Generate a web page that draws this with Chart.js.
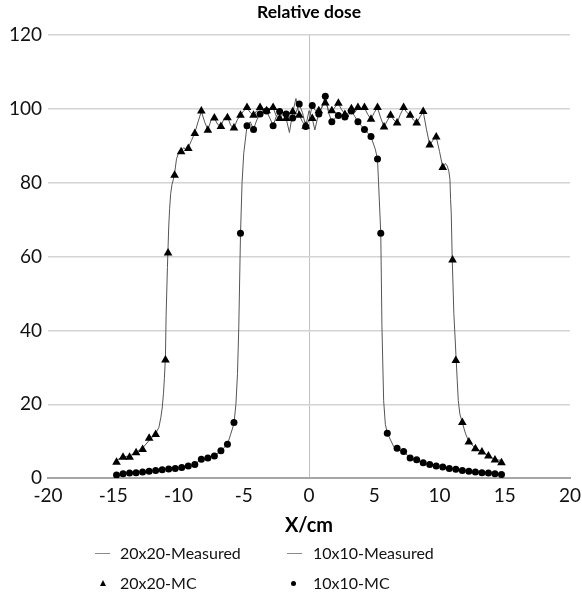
<!DOCTYPE html>
<html>
<head>
<meta charset="utf-8">
<title>Relative dose</title>
<script src="https://cdn.jsdelivr.net/npm/chart.js@4.4.1/dist/chart.umd.min.js"></script>
<style>
  body { margin: 0; background: #fff; }
  #wrap { position: relative; width: 582px; height: 598px; }
  #titulo { position: absolute; left: 48px; width: 522px; top: 1px; text-align: center; font: bold 17.5px Lato, sans-serif; color: #000; line-height: 22px; }
  .leg { position: absolute; font: 16px Lato, sans-serif; color: #111; line-height: 20px; }
  .dash { position: absolute; width: 15px; height: 1px; background: #8a8a8a; }
  .tri { position: absolute; width: 0; height: 0; border-left: 3px solid transparent; border-right: 3px solid transparent; border-bottom: 6px solid #000; }
  .dot { position: absolute; width: 5px; height: 5px; border-radius: 50%; background: #000; }
</style>
</head>
<body>
<div id="wrap">
  <canvas id="graficoDose" width="582" height="598"></canvas>
  <div id="titulo">Relative dose</div>
  <div class="dash" style="left:95px; top:553px"></div>
  <div class="leg" style="left:120px; top:543px">20x20-Measured</div>
  <div class="dash" style="left:287px; top:553px"></div>
  <div class="leg" style="left:313px; top:543px">10x10-Measured</div>
  <div class="tri" style="left:100px; top:580px"></div>
  <div class="leg" style="left:120px; top:573px">20x20-MC</div>
  <div class="dot" style="left:291px; top:581px"></div>
  <div class="leg" style="left:313px; top:573px">10x10-MC</div>
</div>
<script>
// Pontos de Monte Carlo, campo 20x20 (triangulos)
const xMC20 = [-14.75, -14.25, -13.75, -13.25, -12.75, -12.25, -11.75, -11.0, -10.8, -10.3, -9.8, -9.25, -8.75, -8.25, -7.75, -7.25, -6.75, -6.25, -5.75, -5.25, -4.75, -4.25, -3.75, -3.25, -2.75, -2.25, -1.75, -1.25, -0.75, -0.25, 0.25, 0.75, 1.25, 1.75, 2.25, 2.75, 3.25, 3.75, 4.25, 4.75, 5.25, 5.75, 6.25, 6.75, 7.25, 7.75, 8.25, 8.75, 9.25, 9.75, 10.25, 11.0, 11.25, 11.75, 12.25, 12.75, 13.25, 13.75, 14.25, 14.75];
const yMC20 = [4.3, 5.7, 5.7, 6.9, 7.8, 10.8, 11.8, 32, 61, 82, 88.4, 89.3, 93.3, 99.4, 94.2, 97.5, 95.2, 97.6, 94.8, 98.3, 100.4, 98.3, 100.4, 99.5, 100.4, 97.4, 97.4, 99.2, 98.3, 95.3, 97.4, 99.5, 101.6, 99.5, 101.5, 98.5, 100.0, 100.4, 100.4, 97.2, 100.4, 95.1, 98.3, 96.2, 100.4, 98.3, 96.2, 99.3, 90.2, 92.4, 84.1, 59.1, 31.9, 15.1, 9.8, 8.0, 7.1, 6.0, 4.9, 4.2];

// Pontos de Monte Carlo, campo 10x10 (circulos)
const xMC10 = [-14.75, -14.25, -13.75, -13.25, -12.75, -12.25, -11.75, -11.25, -10.75, -10.25, -9.75, -9.25, -8.75, -8.25, -7.75, -7.25, -6.75, -6.25, -5.75, -5.25, -4.75, -4.25, -3.75, -3.25, -2.75, -2.25, -1.75, -1.25, -0.75, -0.25, 0.25, 0.75, 1.25, 1.75, 2.25, 2.75, 3.25, 3.75, 4.25, 4.75, 5.25, 5.5, 6.0, 6.75, 7.25, 7.75, 8.25, 8.75, 9.25, 9.75, 10.25, 10.75, 11.25, 11.75, 12.25, 12.75, 13.25, 13.75, 14.25, 14.75];
const yMC10 = [0.9, 1.2, 1.4, 1.5, 1.7, 1.9, 2.1, 2.3, 2.5, 2.6, 2.9, 3.3, 3.7, 5.1, 5.5, 6.0, 7.4, 9.2, 15.1, 66.3, 95.4, 94.4, 98.6, 99.4, 95.4, 99.3, 98.6, 97.5, 101.3, 95.2, 100.9, 98.6, 103.4, 96.5, 98.2, 97.8, 99.4, 96.5, 94.4, 92.5, 86.4, 66.3, 12.2, 8.1, 7.2, 5.5, 5.0, 4.2, 3.7, 3.3, 3.0, 2.6, 2.4, 2.1, 1.9, 1.7, 1.5, 1.4, 1.2, 1.0];

// Perfil medido, campo 20x20
const xMed20 = [-14.8, -14.25, -13.75, -13.25, -12.75, -12.25, -11.75, -11.5, -11.35, -11.25, -11.15, -11.08, -11.0, -10.95, -10.85, -10.75, -10.68, -10.6, -10.5, -10.4, -10.3, -10.15, -10.0, -9.8, -9.6, -9.4, -9.25, -9.0, -8.75, -8.5, -8.25, -8.0, -7.75, -7.5, -7.25, -7.0, -6.75, -6.5, -6.25, -6.0, -5.75, -5.5, -5.25, -5.0, -4.75, -4.5, -4.25, -4.0, -3.75, -3.5, -3.25, -3.0, -2.75, -2.5, -2.25, -2.0, -1.75, -1.5, -1.25, -1.0, -0.75, -0.5, -0.25, 0.0, 0.25, 0.45, 0.75, 1.0, 1.25, 1.5, 1.75, 2.0, 2.25, 2.5, 2.75, 3.0, 3.25, 3.5, 3.75, 4.0, 4.25, 4.5, 4.75, 5.0, 5.25, 5.5, 5.75, 6.0, 6.25, 6.5, 6.75, 7.0, 7.25, 7.5, 7.75, 8.0, 8.25, 8.5, 8.75, 9.0, 9.25, 9.5, 9.75, 10.0, 10.25, 10.45, 10.6, 10.72, 10.8, 10.85, 10.9, 10.97, 11.1, 11.28, 11.36, 11.44, 11.56, 11.75, 12.0, 12.25, 12.75, 13.25, 13.75, 14.25, 14.85];
const yMed20 = [4.8, 5.8, 6.0, 7.0, 8.2, 10.2, 12.1, 13.8, 16.5, 19, 23, 27, 33, 44, 57, 68, 73, 77, 79.5, 80.8, 82.5, 86.5, 88, 88.6, 89.5, 88.8, 89.5, 91.5, 93.5, 96.5, 99.3, 96.5, 94.3, 97.0, 97.5, 95.8, 95.3, 97.5, 98.0, 95.5, 94.8, 97.0, 98.3, 99.5, 100.3, 99.0, 98.3, 99.5, 100.3, 99.3, 99.5, 100.2, 100.3, 98.0, 97.4, 98.5, 97.4, 93.6, 99.0, 102.8, 98.3, 96.5, 95.3, 99.5, 97.4, 94.3, 99.0, 100.5, 102.5, 99.5, 99.3, 100.5, 101.4, 99.8, 98.5, 98.0, 100.0, 99.0, 100.3, 99.8, 100.3, 98.5, 97.2, 99.0, 100.3, 97.5, 95.1, 96.8, 98.3, 97.0, 96.2, 98.5, 100.3, 99.0, 98.3, 97.0, 96.2, 97.8, 99.3, 94.5, 90.2, 91.5, 92.4, 88.5, 84.1, 85.2, 84.5, 83.0, 80.9, 75.5, 71.8, 60, 44.6, 32, 26.4, 21, 17.4, 15.0, 12.0, 9.9, 8.1, 7.2, 6.1, 5.0, 4.8];

// Perfil medido, campo 10x10
const xMed10 = [-14.75, -13.75, -12.75, -11.75, -10.75, -9.75, -9.25, -8.75, -8.5, -8.25, -7.75, -7.25, -6.75, -6.25, -6.0, -5.75, -5.6, -5.48, -5.38, -5.25, -5.13, -5.0, -4.75, -4.5, -4.25, -4.0, -3.75, -3.5, -3.25, -3.0, -2.75, -2.5, -2.25, -2.0, -1.75, -1.5, -1.25, -1.0, -0.75, -0.5, -0.25, 0.0, 0.25, 0.5, 0.75, 1.0, 1.25, 1.5, 1.75, 2.0, 2.25, 2.5, 2.75, 3.0, 3.25, 3.5, 3.75, 4.0, 4.25, 4.5, 4.75, 5.08, 5.25, 5.33, 5.5, 5.59, 5.72, 5.85, 6.0, 6.5, 6.75, 7.25, 7.75, 8.25, 8.75, 9.25, 9.75, 10.75, 11.75, 12.75, 13.75, 14.75];
const yMed10 = [1.0, 1.4, 1.7, 2.1, 2.5, 2.9, 3.3, 3.8, 4.5, 5.1, 5.6, 6.1, 7.4, 9.2, 11.9, 14.8, 20, 28.3, 41, 66, 80, 88, 95.4, 96.5, 94.5, 97, 98.6, 99.8, 99.4, 97.5, 95.5, 98, 99.2, 99, 98.6, 97, 97.5, 99, 101.3, 99, 95.2, 97, 100.9, 99.5, 98.6, 100.5, 103.4, 99, 96.5, 97.5, 98.2, 98, 97.8, 99, 99.4, 98, 96.5, 95.5, 94.4, 93.5, 92.4, 89.1, 86.4, 80, 66.3, 41, 21, 14.6, 12.2, 8.5, 8.0, 7.1, 5.6, 4.9, 4.2, 3.7, 3.3, 2.6, 2.1, 1.7, 1.4, 1.0];

function pontos(xs, ys) {
    return xs.map(function(x, i) { return { x: x, y: ys[i] }; });
}

Chart.defaults.font.family = 'Lato, sans-serif';
Chart.defaults.color = '#111';

const configDose = {
    type: 'scatter',
    data: {
        datasets: [
            {
                label: '20x20-MC',
                data: pontos(xMC20, yMC20),
                pointStyle: 'triangle',
                pointRadius: 5,
                pointBackgroundColor: '#000',
                pointBorderColor: '#000',
                pointBorderWidth: 0,
                showLine: false,
                order: 1
            },
            {
                label: '10x10-MC',
                data: pontos(xMC10, yMC10),
                pointStyle: 'circle',
                pointRadius: 3.5,
                pointBackgroundColor: '#000',
                pointBorderColor: '#000',
                pointBorderWidth: 0,
                showLine: false,
                order: 1
            },
            {
                label: '20x20-Measured',
                data: pontos(xMed20, yMed20),
                showLine: true,
                borderColor: '#555',
                borderWidth: 1,
                pointRadius: 0,
                tension: 0,
                order: 2
            },
            {
                label: '10x10-Measured',
                data: pontos(xMed10, yMed10),
                showLine: true,
                borderColor: '#555',
                borderWidth: 1,
                pointRadius: 0,
                tension: 0,
                order: 2
            }
        ]
    },
    options: {
        responsive: false,
        animation: false,
        layout: { padding: { left: 0, right: 12, top: 35, bottom: 60 } },
        plugins: {
            legend: { display: false },
            tooltip: { enabled: false },
            title: { display: false }
        },
        scales: {
            x: {
                type: 'linear',
                min: -20,
                max: 20,
                ticks: { stepSize: 5, font: { size: 19 }, padding: 6 },
                grid: {
                    drawTicks: false,
                    color: function(ctx) {
                        return ctx.tick && ctx.tick.value === 0 ? '#c0c0c0' : 'rgba(0,0,0,0)';
                    }
                },
                border: { color: '#a6a6a6', width: 2 },
                title: {
                    display: true,
                    text: 'X/cm',
                    color: '#000',
                    font: { size: 20, weight: 'bold' },
                    padding: { top: 1, bottom: 0 }
                },
                afterFit: function(scale) { scale.paddingLeft = 0; scale.paddingRight = 0; }
            },
            y: {
                min: 0,
                max: 120,
                ticks: { stepSize: 20, font: { size: 19 }, padding: 6 },
                grid: { drawTicks: false, color: '#d4d4d4', lineWidth: 1.5 },
                border: { display: false },
                afterFit: function(scale) { scale.width = 48; scale.paddingTop = 0; scale.paddingBottom = 0; }
            }
        }
    }
};

window.onload = function() {
    new Chart(document.getElementById('graficoDose'), configDose);
};
</script>
</body>
</html>
